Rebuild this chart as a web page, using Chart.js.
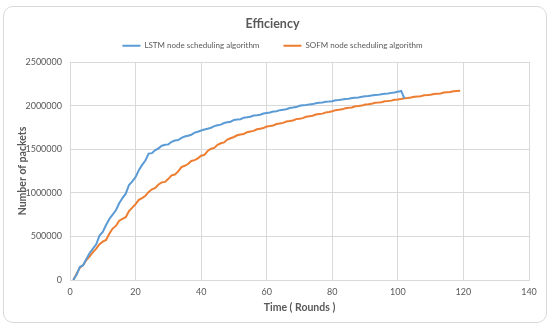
<!DOCTYPE html>
<html>
<head>
<meta charset="utf-8">
<script src="https://cdn.jsdelivr.net/npm/chart.js@4/dist/chart.umd.min.js"></script>
<style>
html,body{margin:0;padding:0;background:#fff;}
#wrap{position:relative;width:550px;height:329px;}
#frame{position:absolute;left:3px;top:6px;width:542px;height:315px;border:1px solid #d9d9d9;border-radius:10px;pointer-events:none;}
canvas{position:absolute;left:0;top:0;}
</style>
</head>
<body>
<div id="wrap"><canvas id="c" width="550" height="329"></canvas><div id="frame"></div></div>
<script>
const chartTitle = "Efficiency";
const xTitle = "Time ( Rounds )";
const yTitle = "Number of packets";
const seriesNames = ["LSTM node scheduling algorithm", "SOFM node scheduling algorithm"];

const lstmValues = [
0,60000,150000,170000,240000,310000,360000,410000,510000,550000,
630000,700000,750000,800000,880000,940000,990000,1090000,1130000,1180000,
1260000,1320000,1370000,1450000,1455000,1490000,1510000,1540000,1550000,1555000,
1585000,1600000,1605000,1630000,1645000,1655000,1665000,1690000,1700000,1715000,
1725000,1735000,1745000,1765000,1775000,1782000,1800000,1808000,1815000,1835000,
1840000,1844000,1862000,1866000,1872000,1886000,1890000,1896000,1910000,1915000,
1920000,1932000,1936000,1948000,1953000,1958000,1972000,1977000,1983000,1998000,
2003000,2007000,2014000,2017000,2027000,2032000,2035000,2043000,2046000,2051000,
2061000,2063000,2069000,2076000,2079000,2086000,2091000,2093000,2101000,2106000,
2109000,2116000,2121000,2123000,2131000,2136000,2139000,2146000,2151000,2160000,
2168000,2082000
];

const sofmValues = [
0,70000,140000,170000,230000,270000,320000,360000,410000,440000,
460000,530000,590000,620000,680000,700000,720000,790000,830000,870000,
920000,940000,965000,1010000,1040000,1055000,1095000,1120000,1125000,1160000,
1200000,1210000,1245000,1295000,1310000,1330000,1365000,1375000,1395000,1425000,
1435000,1480000,1505000,1515000,1550000,1568000,1578000,1610000,1625000,1640000,
1660000,1668000,1675000,1695000,1702000,1710000,1728000,1735000,1742000,1760000,
1765000,1772000,1788000,1795000,1802000,1818000,1823000,1830000,1845000,1850000,
1856000,1872000,1878000,1884000,1898000,1903000,1908000,1922000,1927000,1935000,
1948000,1952000,1957000,1970000,1974000,1979000,1992000,1995000,2000000,2012000,
2015000,2020000,2032000,2035000,2039000,2050000,2053000,2057000,2068000,2071000,
2075000,2085000,2088000,2092000,2102000,2105000,2108000,2118000,2121000,2125000,
2134000,2137000,2140000,2150000,2153000,2156000,2165000,2168000,2170000
];

const xTicks = [0,20,40,60,80,100,120,140];
const yTicks = [0,500000,1000000,1500000,2000000,2500000];

const toPoints = vals => vals.map((v,i)=>({x:i+1,y:v}));

const FONT = "Lato, 'Liberation Sans', sans-serif";
const GREY = "#595959";
const PLOT_TOP = 62;
const PLOT_BOTTOM = 280;
const PAD_BOTTOM = 17;

const legendFit = {
  id:'legendFit',
  beforeInit(chart){
    const lg = chart.legend;
    if(lg){
      const orig = lg.fit;
      lg.fit = function(){ orig.call(this); this.height = Math.max(0, PLOT_TOP - 17.8); };
    }
  }
};

new Chart(document.getElementById('c'), {
  type: 'line',
  data: {
    datasets: [
      {label: seriesNames[0], data: toPoints(lstmValues), borderColor:'#5B9BD5', backgroundColor:'#5B9BD5', borderWidth:2, pointRadius:0, tension:0},
      {label: seriesNames[1], data: toPoints(sofmValues), borderColor:'#ED7D31', backgroundColor:'#ED7D31', borderWidth:2, pointRadius:0, tension:0}
    ]
  },
  plugins:[legendFit],
  options: {
    responsive:false,
    animation:false,
    devicePixelRatio:1,
    layout:{padding:{left:16,right:21,top:6,bottom:PAD_BOTTOM}},
    plugins:{
      title:{display:true,text:chartTitle,color:GREY,font:{family:FONT,size:12.5,weight:'bold'},padding:{top:10.5,bottom:-13.7}},
      legend:{display:true,position:'top',labels:{usePointStyle:false,boxWidth:18,boxHeight:0,color:GREY,font:{family:FONT,size:8},padding:24}},
      tooltip:{enabled:false}
    },
    scales:{
      x:{type:'linear',min:0,max:140,
        afterBuildTicks:s=>{s.ticks=xTicks.map(v=>({value:v}));},
        afterFit:s=>{s.height=329-PAD_BOTTOM-PLOT_BOTTOM;},
        ticks:{color:GREY,font:{family:FONT,size:9},padding:7,maxRotation:0},
        grid:{color:'#d9d9d9',drawTicks:false},
        border:{color:'#d9d9d9'},
        title:{display:true,text:xTitle,color:GREY,font:{family:FONT,size:10.5,weight:'bold'},padding:{top:3,bottom:-2}}
      },
      y:{min:0,max:2500000,
        afterBuildTicks:s=>{s.ticks=yTicks.map(v=>({value:v}));},
        afterFit:s=>{s.width=54;},
        ticks:{color:GREY,font:{family:FONT,size:9},padding:8,callback:v=>String(v)},
        grid:{color:'#d9d9d9',drawTicks:false},
        border:{display:false},
        title:{display:true,text:yTitle,color:GREY,font:{family:FONT,size:10.5,weight:'bold'},padding:{top:0,bottom:0}}
      }
    }
  }
});
</script>
</body>
</html>
